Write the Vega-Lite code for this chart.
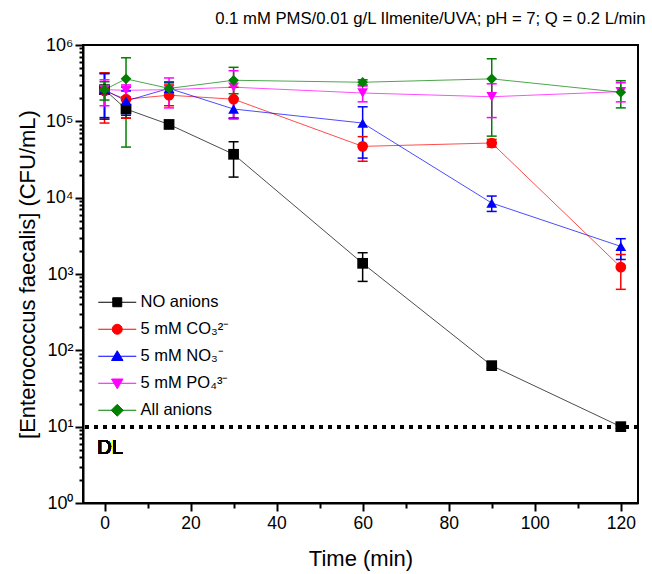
{
  "$schema": "https://vega.github.io/schema/vega-lite/v6.json",
  "autosize": {"type": "none"},
  "padding": {"left": 83, "top": 45, "right": 14, "bottom": 71},
  "width": 555,
  "height": 458,
  "background": "white",
  "config": {
    "font": "Liberation Sans",
    "view": {"stroke": "black", "strokeWidth": 2},
    "axis": {"grid": false, "domainColor": "black", "domainWidth": 2, "tickColor": "black", "tickWidth": 2, "labelFont": "Liberation Sans", "labelColor": "black", "titleFont": "Liberation Sans", "titleColor": "black", "titleFontWeight": "normal"}
  },
  "title": {"text": "0.1 mM PMS/0.01 g/L Ilmenite/UVA; pH = 7; Q = 0.2 L/min", "anchor": "end", "dx": 6, "offset": 8, "fontSize": 16.7, "fontWeight": "normal", "font": "Liberation Sans", "color": "black"},
  "data": {"values": [
    {"series": "NO anions", "t": 0, "v": 260000, "lo": 107000, "hi": 430000},
    {"series": "NO anions", "t": 5, "v": 145000, "lo": 110000, "hi": 190000},
    {"series": "NO anions", "t": 15, "v": 91000, "lo": 83000, "hi": 100000},
    {"series": "NO anions", "t": 30, "v": 37000, "lo": 18600, "hi": 54000},
    {"series": "NO anions", "t": 60, "v": 1380, "lo": 800, "hi": 1900},
    {"series": "NO anions", "t": 90, "v": 63, "lo": 58, "hi": 68},
    {"series": "NO anions", "t": 120, "v": 10, "lo": 9.5, "hi": 10.5},
    {"series": "5 mM CO₃²⁻", "t": 0, "v": 250000, "lo": 95000, "hi": 430000},
    {"series": "5 mM CO₃²⁻", "t": 5, "v": 195000, "lo": 110000, "hi": 280000},
    {"series": "5 mM CO₃²⁻", "t": 15, "v": 220000, "lo": 160000, "hi": 300000},
    {"series": "5 mM CO₃²⁻", "t": 30, "v": 195000, "lo": 110000, "hi": 280000},
    {"series": "5 mM CO₃²⁻", "t": 60, "v": 47000, "lo": 30000, "hi": 63000},
    {"series": "5 mM CO₃²⁻", "t": 90, "v": 52000, "lo": 46000, "hi": 58000},
    {"series": "5 mM CO₃²⁻", "t": 120, "v": 1230, "lo": 630, "hi": 1800},
    {"series": "5 mM NO₃⁻", "t": 0, "v": 260000, "lo": 112000, "hi": 420000},
    {"series": "5 mM NO₃⁻", "t": 5, "v": 185000, "lo": 120000, "hi": 250000},
    {"series": "5 mM NO₃⁻", "t": 15, "v": 270000, "lo": 220000, "hi": 320000},
    {"series": "5 mM NO₃⁻", "t": 30, "v": 145000, "lo": 110000, "hi": 200000},
    {"series": "5 mM NO₃⁻", "t": 60, "v": 95000, "lo": 33000, "hi": 155000},
    {"series": "5 mM NO₃⁻", "t": 90, "v": 8500, "lo": 6600, "hi": 10500},
    {"series": "5 mM NO₃⁻", "t": 120, "v": 2300, "lo": 1550, "hi": 2900},
    {"series": "5 mM PO₄³⁻", "t": 0, "v": 260000, "lo": 160000, "hi": 350000},
    {"series": "5 mM PO₄³⁻", "t": 5, "v": 255000, "lo": 210000, "hi": 300000},
    {"series": "5 mM PO₄³⁻", "t": 15, "v": 260000, "lo": 150000, "hi": 370000},
    {"series": "5 mM PO₄³⁻", "t": 30, "v": 280000, "lo": 107000, "hi": 460000},
    {"series": "5 mM PO₄³⁻", "t": 60, "v": 235000, "lo": 180000, "hi": 290000},
    {"series": "5 mM PO₄³⁻", "t": 90, "v": 210000, "lo": 112000, "hi": 310000},
    {"series": "5 mM PO₄³⁻", "t": 120, "v": 245000, "lo": 180000, "hi": 320000},
    {"series": "All anions", "t": 0, "v": 260000, "lo": 190000, "hi": 330000},
    {"series": "All anions", "t": 5, "v": 360000, "lo": 46000, "hi": 680000},
    {"series": "All anions", "t": 15, "v": 270000, "lo": 220000, "hi": 330000},
    {"series": "All anions", "t": 30, "v": 345000, "lo": 230000, "hi": 510000},
    {"series": "All anions", "t": 60, "v": 325000, "lo": 300000, "hi": 350000},
    {"series": "All anions", "t": 90, "v": 360000, "lo": 64000, "hi": 660000},
    {"series": "All anions", "t": 120, "v": 240000, "lo": 150000, "hi": 340000}
  ]},
  "resolve": {"scale": {"color": "independent", "shape": "independent", "stroke": "independent"}},
  "layer": [
    {
      "mark": {"type": "line", "strokeWidth": 1, "opacity": 0.7},
      "encoding": {
        "x": {"field": "t", "type": "quantitative", "scale": {"domain": [-5, 124], "nice": false, "zero": false},
          "axis": {"title": "Time (min)", "values": [0, 10, 20, 30, 40, 50, 60, 70, 80, 90, 100, 110, 120], "labelExpr": "datum.value % 20 === 0 ? datum.label : ''", "tickSize": {"condition": {"test": "datum.value % 20 === 0", "value": 8}, "value": 5}, "labelFontSize": 17.5, "labelFont": "Liberation Sans", "labelFontWeight": "normal", "labelPadding": 3, "titleFontSize": 22, "titleFont": "Liberation Sans", "titleFontWeight": "normal", "titlePadding": 17}},
        "y": {"field": "v", "type": "quantitative", "scale": {"type": "log", "domain": [1, 1000000]},
          "axis": {"title": "[Enterococcus faecalis] (CFU/mL)", "values": [1,2,3,4,5,6,7,8,9,10,20,30,40,50,60,70,80,90,100,200,300,400,500,600,700,800,900,1000,2000,3000,4000,5000,6000,7000,8000,9000,10000,20000,30000,40000,50000,60000,70000,80000,90000,100000,200000,300000,400000,500000,600000,700000,800000,900000,1000000],
            "labelExpr": "abs(log(datum.value)/LN10 - round(log(datum.value)/LN10)) < 1e-6 ? '10' + ['⁰','¹','²','³','⁴','⁵','⁶'][round(log(datum.value)/LN10)] : ''",
            "tickSize": {"condition": {"test": "abs(log(datum.value)/LN10 - round(log(datum.value)/LN10)) < 1e-6", "value": 8}, "value": 4},
            "labelFontSize": 18, "labelFont": "Liberation Sans", "labelFontWeight": "normal", "labelPadding": 2, "titleFontSize": 22, "titleFont": "Liberation Sans", "titleFontWeight": "normal", "titlePadding": 6}},
        "color": {"field": "series", "type": "nominal", "scale": {"domain": ["NO anions", "5 mM CO₃²⁻", "5 mM NO₃⁻", "5 mM PO₄³⁻", "All anions"], "range": ["#000000", "#ff0000", "#0000ff", "#ff00ff", "#008000"]}, "legend": null},
        "order": {"field": "t", "type": "quantitative"}
      }
    },
    {
      "mark": {"type": "rule", "strokeDash": [4, 5], "strokeWidth": 3, "color": "black"},
      "encoding": {"y": {"datum": 10, "type": "quantitative"}}
    },
    {
      "mark": {"type": "rule", "strokeWidth": 1.5},
      "encoding": {
        "x": {"field": "t", "type": "quantitative"},
        "y": {"field": "lo", "type": "quantitative"},
        "y2": {"field": "hi"},
        "color": {"field": "series", "type": "nominal", "scale": {"domain": ["NO anions", "5 mM CO₃²⁻", "5 mM NO₃⁻", "5 mM PO₄³⁻", "All anions"], "range": ["#000000", "#ff0000", "#0000ff", "#ff00ff", "#008000"]}, "legend": null}
      }
    },
    {
      "transform": [{"fold": ["lo", "hi"], "as": ["end", "ev"]}],
      "mark": {"type": "tick", "orient": "horizontal", "size": 10, "thickness": 1.5, "opacity": 1},
      "encoding": {
        "x": {"field": "t", "type": "quantitative"},
        "y": {"field": "ev", "type": "quantitative"},
        "color": {"field": "series", "type": "nominal", "scale": {"domain": ["NO anions", "5 mM CO₃²⁻", "5 mM NO₃⁻", "5 mM PO₄³⁻", "All anions"], "range": ["#000000", "#ff0000", "#0000ff", "#ff00ff", "#008000"]}, "legend": null}
      }
    },
    {
      "mark": {"type": "point", "filled": true, "opacity": 1, "size": 115},
      "encoding": {
        "x": {"field": "t", "type": "quantitative"},
        "y": {"field": "v", "type": "quantitative"},
        "color": {"field": "series", "type": "nominal", "scale": {"domain": ["NO anions", "5 mM CO₃²⁻", "5 mM NO₃⁻", "5 mM PO₄³⁻", "All anions"], "range": ["#000000", "#ff0000", "#0000ff", "#ff00ff", "#008000"]}, "legend": null},
        "shape": {"field": "series", "type": "nominal", "scale": {"domain": ["NO anions", "5 mM CO₃²⁻", "5 mM NO₃⁻", "5 mM PO₄³⁻", "All anions"], "range": ["square", "circle", "triangle-up", "triangle-down", "diamond"]}, "legend": null}
      }
    },
    {
      "mark": {"type": "text", "align": "left", "baseline": "middle", "fontSize": 20, "fontWeight": "normal", "font": "Liberation Sans", "color": "black"},
      "encoding": {
        "x": {"datum": -1.7, "type": "quantitative"},
        "y": {"datum": 5.3, "type": "quantitative"},
        "text": {"value": "DL"}
      }
    },
    {
      "transform": [{"filter": "false"}],
      "mark": {"type": "point", "filled": true, "size": 100, "strokeWidth": 1},
      "encoding": {
        "x": {"field": "t", "type": "quantitative"},
        "y": {"field": "v", "type": "quantitative"},
        "color": {"field": "series", "type": "nominal", "scale": {"domain": ["NO anions", "5 mM CO₃²⁻", "5 mM NO₃⁻", "5 mM PO₄³⁻", "All anions"], "range": ["#000000", "#ff0000", "#0000ff", "#ff00ff", "#008000"]},
          "legend": {"title": null, "orient": "none", "legendX": 12, "legendY": 249, "padding": 0, "symbolSize": 100, "symbolStrokeWidth": 1, "symbolOffset": 14, "labelOffset": 15, "labelFontSize": 16.5, "labelFont": "Liberation Sans", "labelColor": "black", "rowPadding": 10, "symbolOpacity": 1}},
        "stroke": {"field": "series", "type": "nominal", "scale": {"domain": ["NO anions", "5 mM CO₃²⁻", "5 mM NO₃⁻", "5 mM PO₄³⁻", "All anions"], "range": ["#000000", "#ff0000", "#0000ff", "#ff00ff", "#008000"]},
          "legend": {"title": null, "orient": "none", "legendX": 12, "legendY": 249, "padding": 0, "symbolSize": 100, "symbolStrokeWidth": 1, "symbolOffset": 14, "labelOffset": 15, "labelFontSize": 16.5, "labelFont": "Liberation Sans", "labelColor": "black", "rowPadding": 10, "symbolOpacity": 1}},
        "shape": {"field": "series", "type": "nominal", "scale": {"domain": ["NO anions", "5 mM CO₃²⁻", "5 mM NO₃⁻", "5 mM PO₄³⁻", "All anions"], "range": [
            "M-3.8,0H3.8M-0.9,-0.9H0.9V0.9H-0.9Z",
            "M-3.8,0H3.8M-1,0A1,1,0,1,0,1,0A1,1,0,1,0,-1,0Z",
            "M-3.8,0H3.8M0,-1.1L1.15,0.85H-1.15Z",
            "M-3.8,0H3.8M0,1.1L1.15,-0.85H-1.15Z",
            "M-3.8,0H3.8M0,-1.2L1.2,0L0,1.2L-1.2,0Z"]},
          "legend": {"title": null, "orient": "none", "legendX": 12, "legendY": 249, "padding": 0, "symbolSize": 100, "symbolStrokeWidth": 1, "symbolOffset": 14, "labelOffset": 15, "labelFontSize": 16.5, "labelFont": "Liberation Sans", "labelColor": "black", "rowPadding": 10, "symbolOpacity": 1}}
      }
    }
  ]
}
